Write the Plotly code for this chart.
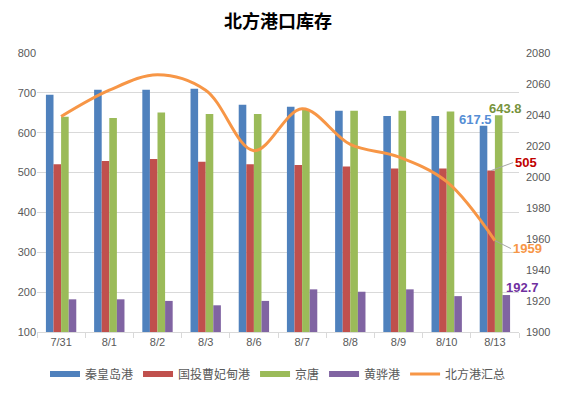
import plotly.graph_objects as go

categories = ["7/31", "8/1", "8/2", "8/3", "8/6", "8/7", "8/8", "8/9", "8/10", "8/13"]
qinhuangdao = [695, 708, 708, 710, 670, 665, 655, 642, 642, 617.5]
caofeidian = [521, 529, 534, 527, 521, 519, 515, 510, 510, 505]
jingtang = [640, 637, 651, 647, 647, 657, 655, 655, 653, 643.8]
huanghua = [182, 182, 178, 167, 178, 207, 201, 207, 190, 192.7]
total = [2039, 2056, 2066, 2056, 2017, 2044, 2021, 2013, 1997, 1959]

names = ["秦皇岛港", "国投曹妃甸港", "京唐", "黄骅港", "北方港汇总"]
colors = ["#4F81BD", "#C0504D", "#9BBB59", "#8064A2", "#F79646"]

FONT = "Liberation Sans, Noto Sans CJK SC, sans-serif"
CJK = "Noto Sans CJK SC, sans-serif"

fig = go.Figure()
for vals, nm, c in zip([qinhuangdao, caofeidian, jingtang, huanghua], names[:4], colors[:4]):
    fig.add_trace(go.Bar(x=categories, y=vals, name=nm, showlegend=False, legendgroup=nm,
                         marker=dict(color=c, line=dict(width=0))))
fig.add_trace(go.Scatter(x=categories, y=total, name=names[4], yaxis="y2", mode="lines",
                         showlegend=False, legendgroup=names[4],
                         line=dict(color=colors[4], width=3, shape="spline", smoothing=1.0)))
# legend entries (long swatches like the original)
for nm, c, w in zip(names, colors, [6, 6, 6, 6, 3]):
    fig.add_trace(go.Scatter(x=[None], y=[None], name=nm, legendgroup=nm, mode="lines",
                             line=dict(color=c, width=w), showlegend=True))

bargap = 0.37
bw = (1 - bargap) / 4
last = len(categories) - 1
def off(i):
    return last + (i - 1.5) * bw

anns = [
    dict(x=off(0), y=qinhuangdao[-1], text="<b>617.5</b>", font=dict(color="#558ED5", size=13),
         xanchor="center", yanchor="middle", xshift=-8, yshift=6, showarrow=False),
    dict(x=off(2), y=jingtang[-1], text="<b>643.8</b>", font=dict(color="#77933C", size=13),
         xanchor="center", yanchor="middle", xshift=7, yshift=7, showarrow=False),
    dict(x=off(1), y=caofeidian[-1], text="<b>505</b>", font=dict(color="#C00000", size=13),
         xanchor="left", yanchor="middle", showarrow=True, arrowhead=0, arrowcolor="#A6A6A6",
         arrowwidth=1, ax=22, ay=-8),
    dict(x=off(3), y=huanghua[-1], text="<b>192.7</b>", font=dict(color="#7030A0", size=13),
         xanchor="center", yanchor="middle", xshift=16, yshift=8, showarrow=False),
    dict(x=last, y=total[-1], yref="y2", text="<b>1959</b>", font=dict(color="#F79646", size=13),
         xanchor="left", yanchor="middle", showarrow=True, arrowhead=0, arrowcolor="#A6A6A6",
         arrowwidth=1, ax=16, ay=8),
]
for a in anns:
    a.setdefault("xref", "x")
    a.setdefault("yref", "y")
    a["font"]["family"] = FONT

fig.update_layout(
    width=562, height=394,
    margin=dict(l=37, r=43, t=53, b=62, autoexpand=False),
    paper_bgcolor="white", plot_bgcolor="white",
    title=dict(text="<b>北方港口库存</b>", x=0.5, xanchor="center", xref="paper",
               y=1 - 22 / 394, yref="container", yanchor="middle",
               font=dict(family=CJK, size=18, color="#000000")),
    barmode="group", bargap=bargap, bargroupgap=0,
    font=dict(family=FONT, size=11, color="#595959"),
    xaxis=dict(type="category", showgrid=False, showline=True, linecolor="#D9D9D9",
               ticks="outside", tickson="boundaries", ticklen=5, tickcolor="#D9D9D9",
               tickfont=dict(size=11, color="#595959"), range=[-0.5, last + 0.5],
               automargin=False),
    yaxis=dict(range=[100, 800], dtick=100, showgrid=True, gridcolor="#D9D9D9", gridwidth=1,
               zeroline=False, showline=False, tickfont=dict(size=11, color="#595959"), ticks="",
               automargin=False),
    yaxis2=dict(range=[1900, 2080], dtick=20, overlaying="y", side="right", showgrid=False,
                zeroline=False, showline=False, tickfont=dict(size=11, color="#595959"),
                ticks="", ticklabelstandoff=6, automargin=False),
    legend=dict(orientation="h", x=0.5, xanchor="center", xref="paper",
                y=1 - 374 / 394, yref="container", yanchor="middle",
                font=dict(family=CJK, size=12, color="#595959"), itemwidth=30,
                traceorder="normal", tracegroupgap=0),
    annotations=anns,
    showlegend=True,
)

fig.write_html("out.html", config={"displayModeBar": False},
               post_script="document.body.style.margin='0';")
